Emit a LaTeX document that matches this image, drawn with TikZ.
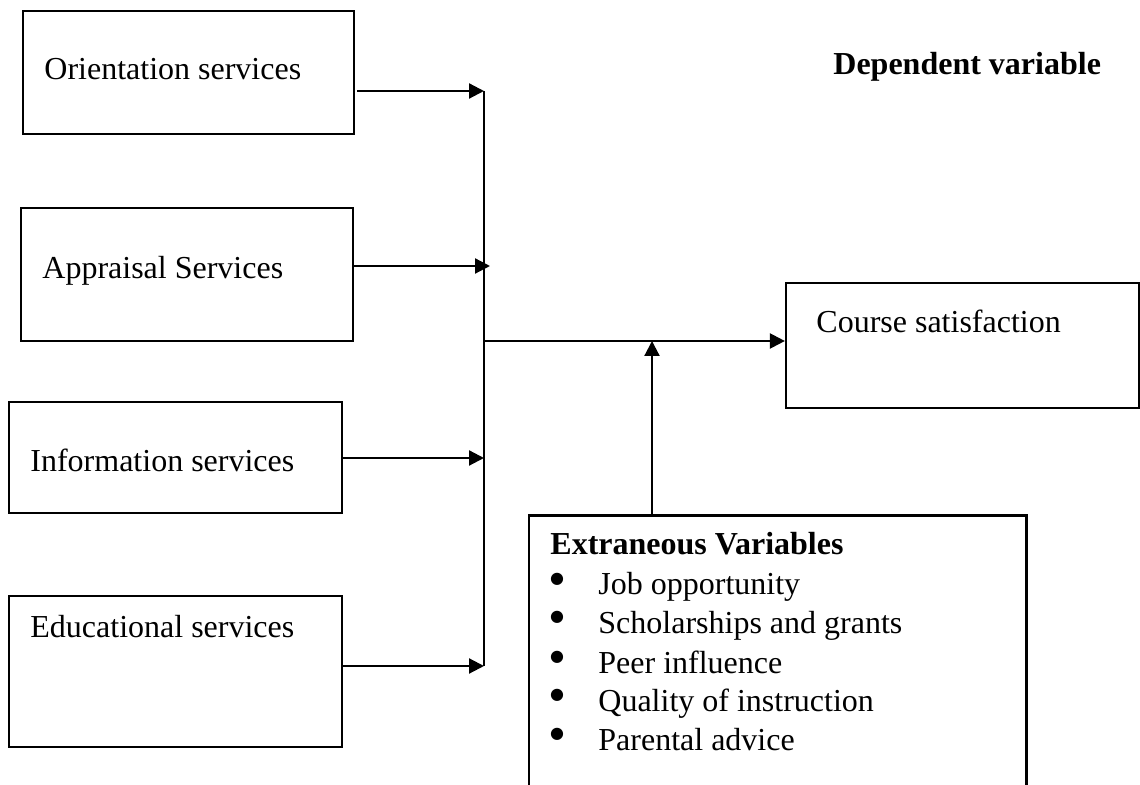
\documentclass[tikz,border=0pt]{standalone}
\usepackage{fontspec}
\setmainfont{Liberation Serif}
\newfontfamily\symfont{DejaVu Sans}
\usetikzlibrary{arrows.meta,fit}
\begin{document}
\begin{tikzpicture}[x=0.5pt,y=-0.5pt,
  box/.style={draw, line width=1.1pt, rectangle, inner sep=0pt},
  txt/.style={anchor=base west, inner sep=0pt, font=\fontsize{16}{19.5}\selectfont},
  btxt/.style={txt, font=\fontsize{16}{19.5}\selectfont\bfseries},
  bul/.style={anchor=center, inner sep=0pt, font=\symfont\fontsize{8}{8}\selectfont},
  link/.style={line width=1.1pt},
  arr/.style={line width=1.1pt, -{Triangle[length=7.5pt,width=7.5pt]}}]
\useasboundingbox (0,0) rectangle (1140,785);
% boxes
\node[box, fit={(23,11) (354,134)}] (o) {};
\node[box, fit={(21,208) (353,341)}] (a) {};
\node[box, fit={(9,402) (342,513)}] (i) {};
\node[box, fit={(9,596) (342,747)}] (e) {};
\node[box, fit={(786,283) (1139,408)}] (cs) {};
\node[inner sep=0pt, fit={(529,516) (1026,786)}] (ev) {};
\draw[line width=1.1pt] (ev.south west) -- (ev.north west) -- (ev.north east) -- (ev.south east);
% texts
\node[txt] (ot) at (44,80) {Orientation services};
\node[txt] (at) at (42,279) {Appraisal Services};
\node[txt] (it) at (30,472) {Information services};
\node[txt] (et) at (30,637) {Educational services};
\node[txt] (cst) at (816,333) {Course satisfaction};
\node[btxt] (dv) at (833,75) {Dependent variable};
\node[btxt] (evt) at (550,555) {Extraneous Variables};
\node[bul] (b1) at (557,579) {●};
\node[bul] (b2) at (557,617) {●};
\node[bul] (b3) at (557,657) {●};
\node[bul] (b4) at (557,695) {●};
\node[bul] (b5) at (557,734) {●};
\node[txt] (l1) at (598,595) {Job opportunity};
\node[txt] (l2) at (598,633) {Scholarships and grants};
\node[txt] (l3) at (598,673) {Peer influence};
\node[txt] (l4) at (598,711) {Quality of instruction};
\node[txt] (l5) at (598,750) {Parental advice};
% junction coordinates
\coordinate (j1) at (484,91);
\coordinate (j2) at (490,266);
\coordinate (j3) at (484,458);
\coordinate (j4) at (484,666);
\coordinate (jm) at (484,341);
\coordinate (ju) at (652,341);
% connectors
\draw[link] (j1) -- (j4);
\draw[arr] ([xshift=1pt]o.east |- j1) -- (j1);
\draw[arr] (a.east |- j2) -- (j2);
\draw[arr] (i.east |- j3) -- (j3);
\draw[arr] (e.east |- j4) -- (j4);
\draw[arr] (jm) -- (cs.west |- jm);
\draw[arr] (ev.north -| ju) -- (ju);
\end{tikzpicture}
\end{document}
